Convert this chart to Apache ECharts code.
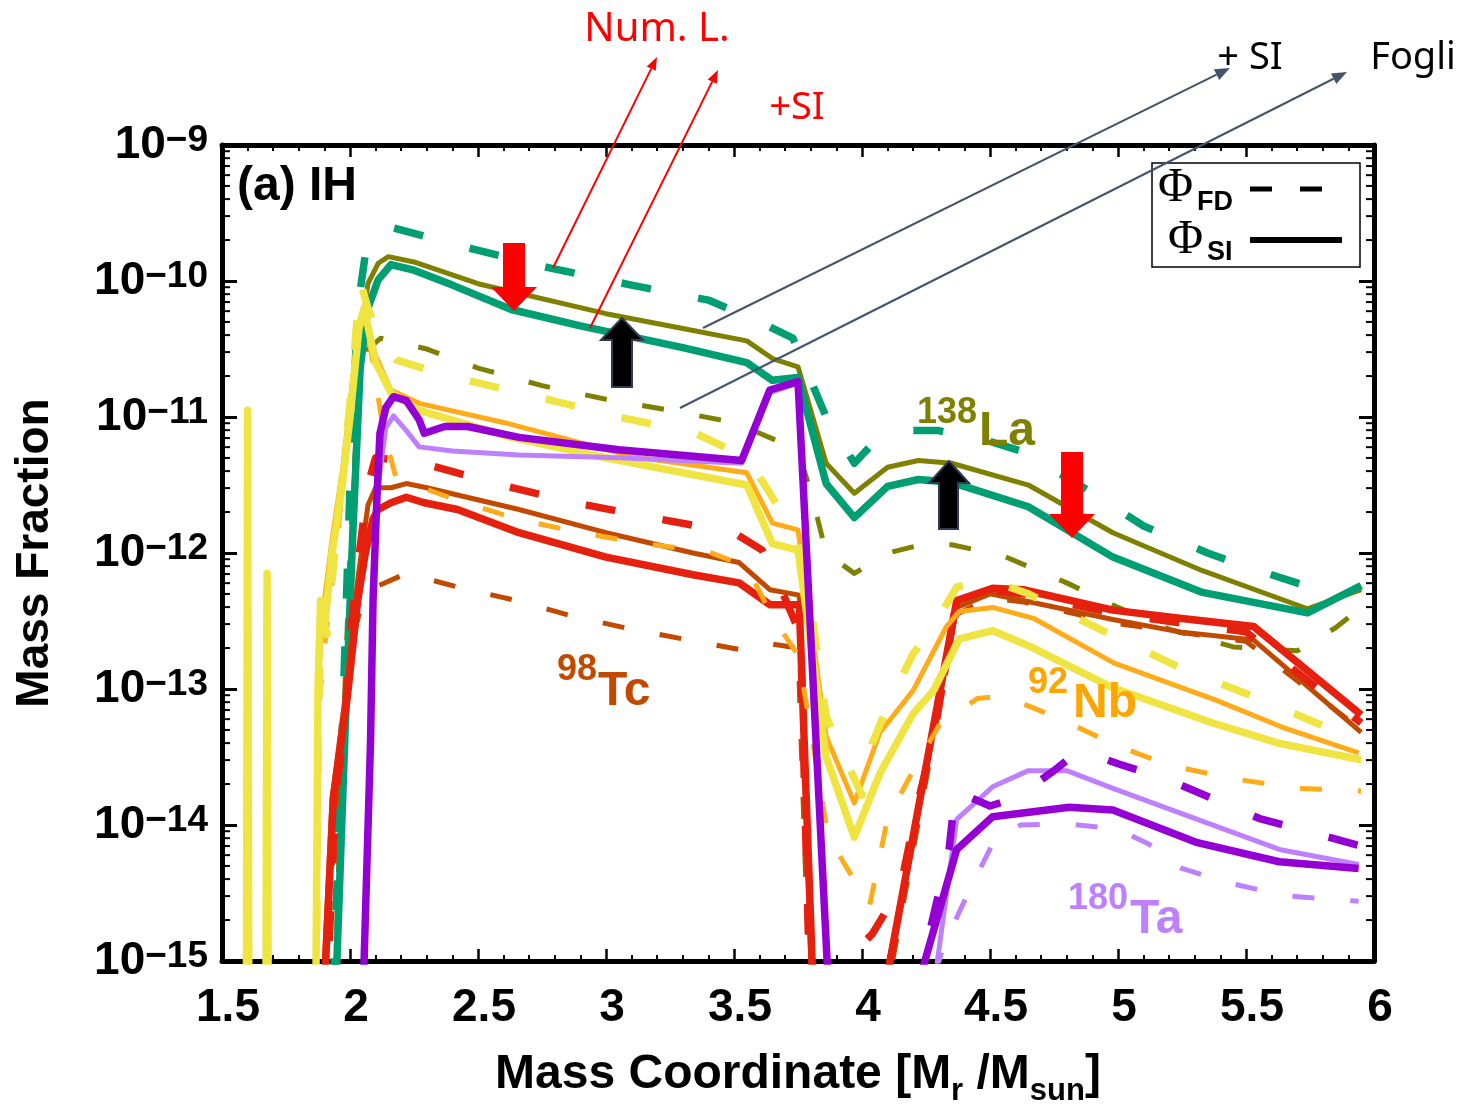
<!DOCTYPE html>
<html>
<head>
<meta charset="utf-8">
<script src="https://cdn.jsdelivr.net/npm/echarts@6/dist/echarts.min.js"></script>
<style>
html, body { margin: 0; padding: 0; background: #ffffff; }
#chart { width: 1464px; height: 1104px; }
</style>
</head>
<body>
<div id="chart"></div>
<script>
// ---------------------------------------------------------------
// Mass fraction profiles vs. mass coordinate, [mass, fraction] pairs
// FD = dashed (Phi_FD), SI = solid (Phi_SI)
// ---------------------------------------------------------------

// 138La
const la138ThickFD = [[1.935,6.3e-16],[1.97,5.01e-14],[2.0,3.16e-12],[2.03,6.31e-11],[2.06,1.58e-10],[2.1,2.34e-10],[2.15,2.51e-10],[2.25,2.24e-10],[2.47,1.74e-10],[2.77,1.26e-10],[3.1,9.33e-11],[3.4,7.24e-11],[3.6,5.01e-11],[3.73,3.8e-11],[3.86,1.0e-11],[3.97,4.57e-12],[4.03,6.03e-12],[4.2,7.94e-12],[4.3,7.94e-12],[4.5,6.61e-12],[4.62,5.62e-12],[4.85,3.16e-12],[5.1,1.58e-12],[5.35,1.0e-12],[5.5,7.94e-13],[5.75,5.62e-13],[5.85,6.61e-13]];
const la138ThickSI = [[1.945,6.3e-16],[1.98,4.47e-14],[2.01,1.26e-12],[2.04,2.34e-11],[2.07,6.31e-11],[2.11,1.02e-10],[2.16,1.32e-10],[2.25,1.2e-10],[2.4,9.33e-11],[2.63,6.17e-11],[2.9,4.68e-11],[3.3,3.24e-11],[3.55,2.51e-11],[3.65,1.86e-11],[3.75,1.95e-11],[3.86,3.24e-12],[3.97,1.82e-12],[4.1,3.09e-12],[4.22,3.47e-12],[4.35,3.31e-12],[4.65,2.19e-12],[4.98,9.33e-13],[5.33,5.13e-13],[5.74,3.63e-13],[5.95,5.75e-13]];
const la138ThinFD = [[1.94,6.3e-16],[1.97,3.16e-14],[2.0,1.0e-12],[2.03,1.26e-11],[2.07,3.16e-11],[2.12,3.8e-11],[2.3,3.16e-11],[2.5,2.29e-11],[2.75,1.7e-11],[3.0,1.35e-11],[3.25,1.12e-11],[3.5,9.12e-12],[3.7,6.31e-12],[3.75,5.62e-12],[3.8,2.82e-12],[3.86,1.0e-12],[3.97,7.08e-13],[4.1,1.0e-12],[4.25,1.17e-12],[4.35,1.15e-12],[4.55,9.55e-13],[4.8,6.03e-13],[5.0,3.98e-13],[5.2,2.75e-13],[5.45,2.04e-13],[5.7,1.91e-13],[5.85,2.82e-13],[5.95,3.98e-13]];
const la138ThinSI = [[1.945,6.3e-16],[1.98,5.01e-14],[2.01,1.78e-12],[2.04,3.55e-11],[2.07,9.55e-11],[2.11,1.35e-10],[2.15,1.51e-10],[2.25,1.38e-10],[2.5,9.55e-11],[3.0,5.75e-11],[3.3,4.47e-11],[3.55,3.63e-11],[3.65,2.69e-11],[3.75,2.34e-11],[3.86,4.57e-12],[3.97,2.75e-12],[4.1,4.27e-12],[4.22,4.79e-12],[4.35,4.57e-12],[4.65,3.16e-12],[4.98,1.41e-12],[5.33,7.41e-13],[5.74,3.89e-13],[5.95,5.37e-13]];

// 98Tc
const tc98ThickFD = [[1.895,1e-16],[1.915,1e-15],[1.935,6.31e-15],[1.95,2.0e-14],[1.98,5.62e-14],[2.0,2.34e-13],[2.03,7.94e-13],[2.07,3.16e-12],[2.1,5.01e-12],[2.2,4.79e-12],[2.3,4.47e-12],[2.55,3.31e-12],[2.85,2.4e-12],[3.15,1.86e-12],[3.5,1.41e-12],[3.61,1.05e-12],[3.68,5.62e-13],[3.76,2.51e-13],[3.8,3.16e-16],[3.88,7.94e-16],[4.04,1.58e-15],[4.15,3.47e-15],[4.22,1.51e-14],[4.28,4.37e-14],[4.36,3.55e-13],[4.5,5.37e-13],[4.63,5.01e-13],[5.0,3.55e-13],[5.5,2.63e-13],[5.95,5.62e-14]];
const tc98ThickSI = [[1.885,1e-16],[1.905,1e-15],[1.935,1.58e-14],[1.99,8.91e-14],[2.03,4.47e-13],[2.06,1.0e-12],[2.09,1.78e-12],[2.11,2.09e-12],[2.16,2.34e-12],[2.22,2.57e-12],[2.29,2.34e-12],[2.42,2.09e-12],[2.66,1.41e-12],[3.0,9.33e-13],[3.34,6.92e-13],[3.52,6.03e-13],[3.64,4.17e-13],[3.755,4.17e-13],[3.805,1e-15],[3.83,3.16e-17],[4.05,3.16e-17],[4.09,6.31e-16],[4.37,4.47e-13],[4.51,5.5e-13],[4.63,5.37e-13],[4.98,3.8e-13],[5.24,3.31e-13],[5.53,2.88e-13],[5.95,6.46e-14]];
const tc98ThinFD = [[1.89,1e-16],[1.91,1e-15],[1.94,1e-14],[1.97,5.01e-14],[2.0,2.0e-13],[2.05,4.47e-13],[2.1,5.62e-13],[2.22,7.08e-13],[2.42,5.62e-13],[2.65,4.47e-13],[2.88,3.39e-13],[3.1,2.75e-13],[3.35,2.24e-13],[3.55,1.91e-13],[3.65,2.14e-13],[3.75,2.0e-13],[3.8,3.16e-16],[4.05,1e-16],[4.1,6.31e-16],[4.37,3.55e-13],[4.5,4.68e-13],[4.63,4.37e-13],[5.0,3.02e-13],[5.5,2.24e-13],[5.95,5.01e-14]];
const tc98ThinSI = [[1.88,1e-16],[1.9,1e-15],[1.93,1.58e-14],[1.985,1.0e-13],[2.03,6.31e-13],[2.07,2.24e-12],[2.1,3.02e-12],[2.16,3.02e-12],[2.22,3.24e-12],[2.3,3.02e-12],[2.66,2.09e-12],[3.0,1.41e-12],[3.34,1.0e-12],[3.52,8.51e-13],[3.64,5.37e-13],[3.755,4.9e-13],[3.8,1e-15],[3.83,3.16e-17],[4.05,3.16e-17],[4.085,6.31e-16],[4.37,3.98e-13],[4.5,5.01e-13],[4.63,4.47e-13],[4.98,3.24e-13],[5.24,2.63e-13],[5.53,2.29e-13],[5.95,4.79e-14]];

// 92Nb
const nb92ThickFD = [[1.862,3.16e-17],[1.878,7.94e-14],[1.89,3.55e-13],[1.91,2.51e-13],[1.95,1.58e-12],[2.0,1.26e-11],[2.04,1.0e-10],[2.07,6.31e-11],[2.12,3.55e-11],[2.18,2.63e-11],[2.3,2.24e-11],[2.5,1.78e-11],[2.77,1.35e-11],[3.05,1.0e-11],[3.35,7.59e-12],[3.55,5.01e-12],[3.63,2.95e-12],[3.75,1.26e-12],[3.8,3.98e-13],[3.86,6.31e-14],[3.92,3.47e-14],[4.0,1.66e-14],[4.04,3.98e-14],[4.11,8.32e-14],[4.2,1.82e-13],[4.27,2.69e-13],[4.37,5.62e-13],[4.5,6.31e-13],[4.65,5.01e-13],[4.95,2.63e-13],[5.25,1.41e-13],[5.55,8.51e-14],[5.9,4.47e-14]];
const nb92ThickSI = [[1.594,3.16e-17],[1.6,1.12e-11],[1.606,3.16e-17],[1.67,3.16e-17],[1.676,7.08e-13],[1.682,3.16e-17],[1.862,3.16e-17],[1.875,1.0e-13],[1.885,4.47e-13],[1.9,2.82e-13],[1.93,1.0e-12],[1.97,3.16e-12],[2.0,1.0e-11],[2.035,4.47e-11],[2.055,6.31e-11],[2.1,2.51e-11],[2.16,1.51e-11],[2.27,1.12e-11],[2.63,7.08e-12],[3.0,5.01e-12],[3.55,3.16e-12],[3.65,1.17e-12],[3.75,1.05e-12],[3.86,3.16e-14],[3.97,8.13e-15],[4.07,2.4e-14],[4.2,6.61e-14],[4.28,9.77e-14],[4.38,2.34e-13],[4.51,2.69e-13],[4.66,2.04e-13],[4.98,1.02e-13],[5.37,5.62e-14],[5.63,3.98e-14],[5.95,3.02e-14]];
const nb92ThinFD = [[1.862,3.16e-17],[1.88,7.94e-14],[1.9,2.0e-13],[1.95,1.26e-12],[2.0,1.0e-11],[2.04,5.01e-11],[2.06,5.01e-11],[2.09,2.51e-11],[2.13,7.94e-12],[2.18,3.55e-12],[2.4,2.51e-12],[2.65,1.78e-12],[2.9,1.41e-12],[3.15,1.17e-12],[3.4,1.02e-12],[3.55,7.94e-13],[3.65,3.39e-13],[3.75,1.78e-13],[3.8,5.01e-14],[3.86,1.0e-14],[3.92,5.62e-15],[4.03,2.57e-15],[4.1,1.12e-14],[4.2,2.51e-14],[4.3,5.37e-14],[4.45,8.51e-14],[4.55,8.91e-14],[4.75,6.31e-14],[5.0,3.8e-14],[5.2,2.75e-14],[5.45,2.19e-14],[5.7,1.86e-14],[5.95,1.78e-14]];
const nb92ThinSI = [[1.862,3.16e-17],[1.878,1.26e-13],[1.89,3.16e-13],[1.93,1.26e-12],[1.97,3.98e-12],[2.0,1.26e-11],[2.035,5.01e-11],[2.055,6.31e-11],[2.1,2.82e-11],[2.16,1.58e-11],[2.27,1.26e-11],[2.6,9.12e-12],[3.1,5.13e-12],[3.55,3.89e-12],[3.65,1.66e-12],[3.75,1.48e-12],[3.86,4.47e-14],[3.97,1.45e-14],[4.07,4.79e-14],[4.2,9.77e-14],[4.33,2.88e-13],[4.38,3.72e-13],[4.51,3.98e-13],[4.67,3.31e-13],[4.985,1.55e-13],[5.38,8.32e-14],[5.64,5.25e-14],[5.94,3.39e-14]];

// 180Ta
const ta180ThickFD = [[4.2,5.01e-16],[4.34,6.61e-15],[4.365,1.78e-14],[4.5,1.38e-14],[4.6,1.58e-14],[4.75,2.51e-14],[4.85,3.55e-14],[5.0,2.82e-14],[5.2,2.14e-14],[5.55,1.12e-14],[5.94,7.08e-15]];
const ta180ThickSI = [[2.045,1.58e-16],[2.055,1.0e-15],[2.08,3.98e-14],[2.09,4.47e-13],[2.105,2.51e-12],[2.117,7.59e-12],[2.14,1.17e-11],[2.17,1.41e-11],[2.22,1.32e-11],[2.27,9.55e-12],[2.29,7.59e-12],[2.37,8.51e-12],[2.46,8.51e-12],[2.66,7.08e-12],[3.05,5.75e-12],[3.53,4.79e-12],[3.64,1.58e-11],[3.75,1.82e-11],[3.865,8.91e-16],[3.95,3.16e-17],[4.15,3.16e-17],[4.2,5.01e-16],[4.37,6.61e-15],[4.51,1.15e-14],[4.81,1.35e-14],[4.98,1.29e-14],[5.31,7.41e-15],[5.63,5.37e-15],[5.94,4.79e-15]];
const ta180ThinFD = [[4.22,3.16e-16],[4.32,1.32e-15],[4.42,3.31e-15],[4.52,7.94e-15],[4.62,1.0e-14],[4.8,1.02e-14],[5.0,9.33e-15],[5.12,7.24e-15],[5.25,4.79e-15],[5.42,3.8e-15],[5.65,3.02e-15],[5.94,2.75e-15]];
const ta180ThinSI = [[2.045,1.58e-16],[2.055,1.0e-15],[2.08,3.98e-14],[2.09,3.98e-13],[2.11,3.16e-12],[2.14,8.32e-12],[2.17,1.02e-11],[2.22,7.94e-12],[2.27,6.03e-12],[2.4,5.62e-12],[2.66,5.25e-12],[3.05,5.01e-12],[3.53,4.57e-12],[3.64,1.51e-11],[3.75,1.78e-11],[3.865,8.91e-16],[3.95,3.16e-17],[4.2,3.16e-17],[4.28,6.31e-16],[4.37,1.1e-14],[4.51,1.91e-14],[4.65,2.51e-14],[4.8,2.51e-14],[4.98,1.86e-14],[5.31,1.1e-14],[5.63,6.61e-15],[5.94,5.13e-15]];

// axis ticks
const xTickValues = [1.5, 2, 2.5, 3, 3.5, 4, 4.5, 5, 5.5, 6];
const yDecades = [1e-15, 1e-14, 1e-13, 1e-12, 1e-11, 1e-10, 1e-9];
const yMinorSteps = [2, 3, 4, 5, 6, 7, 8, 9];

// ---------------------------------------------------------------
const FONT = "'Liberation Sans', Arial, Helvetica, sans-serif";
const NOTE_FONT = "'Noto Sans', 'Open Sans', sans-serif";
const SERIF = "'Liberation Serif', 'Times New Roman', serif";
const COLORS = {
  teal: '#009e73', olive: '#808000',
  red: '#e5200f', brown: '#c24a00',
  yellow: '#f0e442', orange: '#ffab1a',
  violet: '#9400d3', lilac: '#bf80ff'
};
const THICK = 7.5, THIN = 5;
const THICK_DASH = [30, 48], THIN_DASH = [22, 36];

// drawing order: later entries on top
const curves = [
  [la138ThinFD,  COLORS.olive,  THIN,  THIN_DASH],
  [la138ThinSI,  COLORS.olive,  THIN,  null],
  [la138ThickFD, COLORS.teal,   THICK, THICK_DASH],
  [la138ThickSI, COLORS.teal,   THICK, null],
  [tc98ThinFD,   COLORS.brown,  THIN,  THIN_DASH],
  [tc98ThinSI,   COLORS.brown,  THIN,  null],
  [tc98ThickFD,  COLORS.red,    THICK, THICK_DASH],
  [tc98ThickSI,  COLORS.red,    THICK, null],
  [nb92ThinFD,   COLORS.orange, THIN,  THIN_DASH],
  [nb92ThinSI,   COLORS.orange, THIN,  null],
  [nb92ThickFD,  COLORS.yellow, THICK, THICK_DASH],
  [nb92ThickSI,  COLORS.yellow, THICK, null],
  [ta180ThinFD,  COLORS.lilac,  THIN,  THIN_DASH],
  [ta180ThinSI,  COLORS.lilac,  THIN,  null],
  [ta180ThickFD, COLORS.violet, THICK, THICK_DASH],
  [ta180ThickSI, COLORS.violet, THICK, null]
];

const lineSeries = curves.map(function (c, i) {
  return {
    type: 'line',
    data: c[0],
    showSymbol: false,
    symbol: 'none',
    clip: true,
    z: 2 + i * 0.01,
    lineStyle: {
      color: c[1], width: c[2],
      type: c[3] ? c[3] : 'solid',
      cap: 'butt', join: 'round'
    },
    silent: true
  };
});

// minor ticks of the logarithmic y axis (2..9 x 10^n), drawn on both frame sides
const minorTickData = [];
yDecades.slice(0, -1).forEach(function (d) {
  yMinorSteps.forEach(function (k) { minorTickData.push([1.5, k * d]); });
});
const minorTickSeries = {
  type: 'custom',
  data: minorTickData,
  silent: true,
  z: 20,
  renderItem: function (params, api) {
    const y = api.coord([api.value(0), api.value(1)])[1];
    const cs = params.coordSys;
    const len = 8;
    return {
      type: 'group',
      children: [
        { type: 'line', shape: { x1: cs.x, y1: y, x2: cs.x + len, y2: y },
          style: { stroke: '#000', lineWidth: 2 } },
        { type: 'line', shape: { x1: cs.x + cs.width, y1: y, x2: cs.x + cs.width - len, y2: y },
          style: { stroke: '#000', lineWidth: 2 } }
      ]
    };
  }
};

// decade labels: 10 with a raised exponent (true minus sign)
function yLabel(v) {
  const e = Math.round(Math.log10(v));
  return '{b|10}{s|\u2212' + Math.abs(e) + '}';
}

const frameLine = { show: true, onZero: false, lineStyle: { color: '#000', width: 5 } };

// annotation helpers
function arrowLine(x1, y1, x2, y2, color, w, headL, headW) {
  const dx = x2 - x1, dy = y2 - y1, L = Math.sqrt(dx * dx + dy * dy);
  const ux = dx / L, uy = dy / L, nx = -uy, ny = ux;
  const bx = x2 - ux * headL, by = y2 - uy * headL;
  return [
    { type: 'line', z: 100, silent: true,
      shape: { x1: x1, y1: y1, x2: bx, y2: by },
      style: { stroke: color, lineWidth: w } },
    { type: 'polygon', z: 100, silent: true,
      shape: { points: [[x2, y2], [bx + nx * headW / 2, by + ny * headW / 2], [bx - nx * headW / 2, by - ny * headW / 2]] },
      style: { fill: color } }
  ];
}
function txt(text, x, y, size, color, opts) {
  opts = opts || {};
  return {
    type: 'text', z: 100, silent: true,
    style: {
      text: text, x: x, y: y,
      fill: color,
      font: (opts.weight || 'bold') + ' ' + size + 'px ' + (opts.family || FONT),
      textAlign: opts.align || 'left',
      textVerticalAlign: 'middle', verticalAlign: 'middle'
    }
  };
}
function poly(points, fill, stroke) {
  return { type: 'polygon', z: 100, silent: true, shape: { points: points },
    style: { fill: fill, stroke: stroke || null, lineWidth: stroke ? 2 : 0 } };
}

const graphics = [].concat(
  // panel tag
  [txt('(a) IH', 237, 187, 48, '#000')],
  // isotope labels
  [txt('138', 917, 413, 36, COLORS.olive), txt('La', 979, 432, 48, COLORS.olive),
   txt('98', 557, 670, 36, COLORS.brown), txt('Tc', 598, 692, 48, COLORS.brown),
   txt('92', 1028, 683, 36, '#ffa500'), txt('Nb', 1073, 704, 48, '#ffa500'),
   txt('180', 1068, 899, 36, COLORS.lilac), txt('Ta', 1130, 920, 48, COLORS.lilac)],
  // legend box
  [{ type: 'rect', z: 90, silent: true, shape: { x: 1152, y: 163, width: 208, height: 104 },
     style: { fill: null, stroke: '#000', lineWidth: 1.5 } },
   txt('\u03A6', 1158, 188, 48, '#000', { weight: 'normal', family: SERIF }),
   txt('FD', 1197, 203, 27, '#000', { weight: 'bold' }),
   { type: 'line', z: 95, silent: true, shape: { x1: 1250, y1: 189, x2: 1322, y2: 189 },
     style: { stroke: '#000', lineWidth: 5, lineDash: [22, 28] } },
   txt('\u03A6', 1168, 240, 48, '#000', { weight: 'normal', family: SERIF }),
   txt('SI', 1207, 253, 27, '#000', { weight: 'bold' }),
   { type: 'line', z: 95, silent: true, shape: { x1: 1250, y1: 240, x2: 1342, y2: 240 },
     style: { stroke: '#000', lineWidth: 6 } }],
  // call-out arrows and notes
  arrowLine(553, 268, 657, 57, '#ff0000', 2, 13, 10),
  arrowLine(590, 328, 718, 70, '#ff0000', 2, 13, 10),
  arrowLine(703, 328, 1230, 68, '#44546a', 2, 15, 12),
  arrowLine(680, 408, 1347, 72, '#44546a', 2, 15, 12),
  [txt('Num. L.', 657, 30, 40, '#ff0000', { weight: 'normal', align: 'center', family: NOTE_FONT }),
   txt('+SI', 797, 108, 38, '#ff0000', { weight: 'normal', align: 'center', family: NOTE_FONT }),
   txt('+ SI', 1250, 58, 38, '#000', { weight: 'normal', align: 'center', family: NOTE_FONT }),
   txt('Fogli', 1413, 58, 38, '#000', { weight: 'normal', align: 'center', family: NOTE_FONT })],
  // block arrows
  [poly([[503,243],[525,243],[525,287],[537,287],[514,311],[491,287],[503,287]], '#ff0000'),
   poly([[1061,452],[1083,452],[1083,514],[1095,514],[1072,538],[1049,514],[1061,514]], '#ff0000'),
   poly([[612,387],[632,387],[632,340],[643,340],[622,318],[601,340],[612,340]], '#000000', '#2f3b52'),
   poly([[939,529],[958,529],[958,483],[969,483],[949,461],[929,483],[939,483]], '#000000', '#2f3b52')]
);

const option = {
  animation: false,
  backgroundColor: '#ffffff',
  textStyle: { fontFamily: FONT },
  grid: { left: 222, right: 90, top: 145, bottom: 143, containLabel: false, outerBoundsMode: 'none' },
  xAxis: [
    {
      type: 'value', position: 'bottom', min: 1.5, max: 6, interval: 0.5,
      axisLine: frameLine,
      axisTick: { show: true, inside: true, length: 12, lineStyle: { color: '#000', width: 2.5 } },
      minorTick: { show: true, splitNumber: 5, length: 6, lineStyle: { color: '#000', width: 2 } },
      splitLine: { show: false },
      axisLabel: {
        show: true, margin: 24, color: '#000', fontSize: 46, fontWeight: 'bold', fontFamily: FONT,
        padding: [0, 0, 0, 12],
        formatter: function (v) { return xTickValues.indexOf(v) >= 0 ? String(v) : ''; }
      },
      name: '{m|Mass Coordinate [M}{u|r}{m| /M}{u|sun}{m|]}',
      nameLocation: 'middle', nameGap: 90,
      nameTextStyle: {
        rich: {
          m: { fontSize: 48, fontWeight: 'bold', fontFamily: FONT, color: '#000', lineHeight: 48, verticalAlign: 'top' },
          u: { fontSize: 31, fontWeight: 'bold', fontFamily: FONT, color: '#000', lineHeight: 31, padding: [25, 0, 0, 0], verticalAlign: 'top' }
        }
      }
    },
    {
      type: 'value', position: 'top', min: 1.5, max: 6, interval: 0.5,
      axisLine: frameLine,
      axisTick: { show: true, inside: true, length: 12, lineStyle: { color: '#000', width: 2.5 } },
      minorTick: { show: true, splitNumber: 5, length: 6, lineStyle: { color: '#000', width: 2 } },
      splitLine: { show: false },
      axisLabel: { show: false }
    }
  ],
  yAxis: [
    {
      type: 'log', logBase: 10, position: 'left', min: 1e-15, max: 1e-9,
      axisLine: frameLine,
      axisTick: { show: true, inside: true, length: 15, lineStyle: { color: '#000', width: 3 } },
      minorTick: { show: false },
      splitLine: { show: false },
      axisLabel: {
        show: true, margin: 14, color: '#000', formatter: yLabel,
        rich: {
          b: { fontSize: 46, fontWeight: 'bold', fontFamily: FONT, color: '#000', lineHeight: 46, verticalAlign: 'bottom' },
          s: { fontSize: 37, fontWeight: 'bold', fontFamily: FONT, color: '#000', lineHeight: 37, padding: [0, 0, 20, 0], verticalAlign: 'top' }
        }
      },
      name: 'Mass Fraction', nameLocation: 'middle', nameRotate: 90, nameGap: 164,
      nameTextStyle: { fontSize: 46, fontWeight: 'bold', fontFamily: FONT, color: '#000' }
    },
    {
      type: 'log', logBase: 10, position: 'right', min: 1e-15, max: 1e-9,
      axisLine: frameLine,
      axisTick: { show: true, inside: true, length: 15, lineStyle: { color: '#000', width: 3 } },
      minorTick: { show: false },
      splitLine: { show: false },
      axisLabel: { show: false }
    }
  ],
  series: lineSeries.concat([minorTickSeries]),
  graphic: graphics
};

const chart = echarts.init(document.getElementById('chart'), null, { renderer: 'canvas' });
chart.setOption(option);
</script>
</body>
</html>
